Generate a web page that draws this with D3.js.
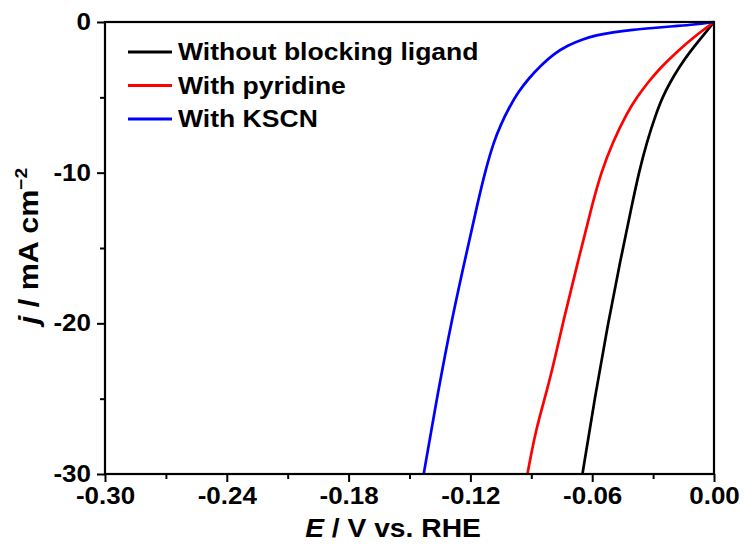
<!DOCTYPE html>
<html>
<head>
<meta charset="utf-8">
<script src="https://cdn.jsdelivr.net/npm/d3@7"></script>
<style>
  html, body { margin: 0; padding: 0; background: #fff; }
  svg { display: block; font-family: "Liberation Sans", Arial, sans-serif; }
</style>
</head>
<body>
<svg id="chart" width="745" height="544"></svg>
<script>
// Polarization curves (LSV) — potential E (V vs. RHE) and current density j (mA cm^-2)
const seriesNames = ["Without blocking ligand", "With pyridine", "With KSCN"];
const seriesColors = ["#000000", "#ff0000", "#0000ff"];

const blackJ = [0, -0.5, -1.0, -2.0, -3.0, -4.0, -5.0, -6.0, -8.0, -10.0, -12.0, -16.0, -20.0, -25.0, -30.0];
const blackE = [0, -0.0030, -0.0060, -0.0120, -0.0172, -0.0216, -0.0254, -0.0283, -0.0332, -0.0370, -0.0402, -0.0464, -0.0522, -0.0588, -0.0648];

const redJ = [0, -0.5, -1.0, -2.0, -3.0, -4.0, -5.0, -6.0, -8.0, -10.0, -12.0, -16.0, -20.0, -22.0, -24.5, -27.0, -30.0];
const redE = [0, -0.0050, -0.0098, -0.0185, -0.0262, -0.0325, -0.0380, -0.0427, -0.0500, -0.0556, -0.0598, -0.0672, -0.0745, -0.0778, -0.0823, -0.0877, -0.0919];

const blueJ = [0, -0.18, -0.28, -0.40, -0.52, -0.68, -0.88, -1.15, -1.55, -2.12, -2.85, -3.70, -4.65, -5.70, -6.80, -7.96, -9.80, -11.81, -15.80, -19.78, -24.42, -30.0];
const blueE = [0, -0.0100, -0.0200, -0.0300, -0.0400, -0.0500, -0.0580, -0.0650, -0.0720, -0.0790, -0.0850, -0.0910, -0.0965, -0.1010, -0.1050, -0.1085, -0.1125, -0.1161, -0.1227, -0.1292, -0.1358, -0.1430];

const xTicks = [-0.30, -0.24, -0.18, -0.12, -0.06, 0.00];
const xMinorTicks = [-0.27, -0.21, -0.15, -0.09, -0.03];
const yTicks = [0, -10, -20, -30];
const yMinorTicks = [-5, -15, -25];

const svg = d3.select("#chart");
const W = 745, H = 544;
const margin = { top: 22, right: 31, bottom: 70, left: 105 };
const iw = W - margin.left - margin.right;
const ih = H - margin.top - margin.bottom;
const stretch = 1.13; // lettering is set slightly wide

const x = d3.scaleLinear().domain([-0.30, 0.00]).range([0, iw]);
const y = d3.scaleLinear().domain([-30, 0]).range([ih, 0]);

const g = svg.append("g").attr("transform", `translate(${margin.left},${margin.top})`);

g.append("clipPath").attr("id", "plotClip")
  .append("rect").attr("x", 0).attr("y", -2).attr("width", iw + 2).attr("height", ih + 2);

// curves, smoothed through the sampled points
const series = [
  { E: blackE, J: blackJ },
  { E: redE, J: redJ },
  { E: blueE, J: blueJ }
];
const line = d3.line()
  .x(d => x(d[0]))
  .y(d => y(d[1]))
  .curve(d3.curveBasis);

series.forEach((s, i) => {
  const pts = s.E.map((e, k) => [e, s.J[k]]).sort((a, b) => b[1] - a[1]);
  g.append("path")
    .datum(pts)
    .attr("clip-path", "url(#plotClip)")
    .attr("fill", "none")
    .attr("stroke", seriesColors[i])
    .attr("stroke-width", 2.7)
    .attr("stroke-linejoin", "round")
    .attr("d", line);
});

// axes
const tickFont = 23;
const hyphen = s => s.replace("\u2212", "-");
const xAxis = g.append("g").attr("transform", `translate(0,${ih})`)
  .call(d3.axisBottom(x).tickValues(xTicks).tickSize(8).tickPadding(6)
    .tickFormat(d => hyphen(d3.format(".2f")(d))));
const xMinor = g.append("g").attr("transform", `translate(0,${ih})`)
  .call(d3.axisBottom(x).tickValues(xMinorTicks).tickSize(5).tickFormat(""));
const yAxis = g.append("g")
  .call(d3.axisLeft(y).tickValues(yTicks).tickSize(8).tickPadding(6)
    .tickFormat(d => hyphen(d3.format("d")(d))));
const yMinor = g.append("g")
  .call(d3.axisLeft(y).tickValues(yMinorTicks).tickSize(5).tickFormat(""));

[xAxis, xMinor, yAxis, yMinor].forEach(a => {
  a.select(".domain").remove();
  a.selectAll(".tick line").attr("stroke", "#000").attr("stroke-width", 2);
  a.selectAll(".tick text")
    .attr("fill", "#000")
    .style("font-size", tickFont + "px")
    .style("font-weight", "bold")
    .style("font-family", "'Liberation Sans', Arial, sans-serif");
});
// widen tick lettering about its anchor
xAxis.selectAll(".tick text").each(function () {
  const t = d3.select(this);
  const yy = +t.attr("y");
  t.attr("y", null).attr("transform", `translate(0,${yy}) scale(${stretch},1)`);
});
yAxis.selectAll(".tick text").each(function () {
  const t = d3.select(this);
  const xx = +t.attr("x");
  t.attr("x", null).attr("transform", `translate(${xx},0) scale(${stretch},1)`);
});

// frame
g.append("rect")
  .attr("x", 0).attr("y", 0).attr("width", iw).attr("height", ih)
  .attr("fill", "none").attr("stroke", "#000").attr("stroke-width", 2.2);

// axis titles
const xt = svg.append("text")
  .attr("transform", `translate(393,537) scale(${stretch},1)`)
  .attr("text-anchor", "middle")
  .style("font-size", "25px").style("font-weight", "bold");
xt.append("tspan").style("font-style", "italic").text("E");
xt.append("tspan").text(" / V vs. RHE");

const yt = svg.append("text")
  .attr("transform", `translate(38,246) rotate(-90) scale(${stretch},1)`)
  .attr("text-anchor", "middle")
  .style("font-size", "27px").style("font-weight", "bold");
yt.append("tspan").style("font-style", "italic").text("j");
yt.append("tspan").text(" / mA cm");
yt.append("tspan").attr("dy", -11).style("font-size", "17px").text("\u22122");

// legend
const legend = svg.append("g").attr("transform", "translate(128,52)");
seriesNames.forEach((name, i) => {
  const row = legend.append("g").attr("transform", `translate(0,${i * 33.5})`);
  row.append("line").attr("x1", 0).attr("x2", 44).attr("y1", 0).attr("y2", 0)
    .attr("stroke", seriesColors[i]).attr("stroke-width", 3);
  row.append("text")
    .attr("transform", `translate(50,0) scale(${stretch},1)`)
    .attr("dy", "0.35em")
    .style("font-size", "23.5px").style("font-weight", "bold").text(name);
});
</script>
</body>
</html>
